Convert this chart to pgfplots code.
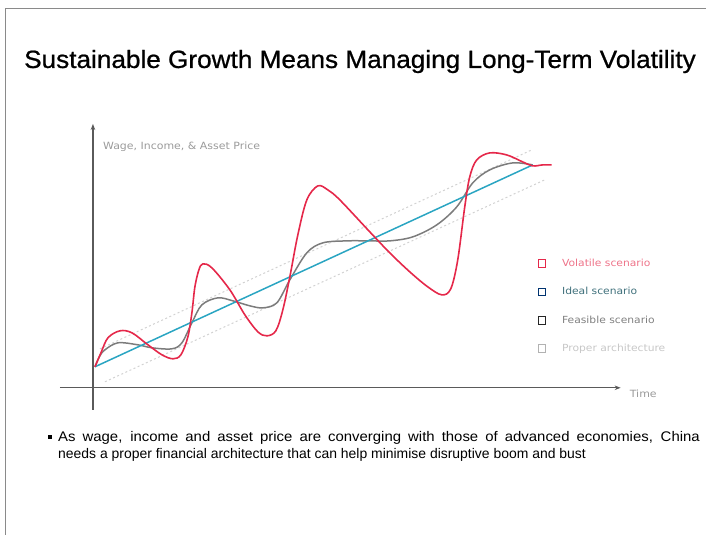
\documentclass[border=0pt]{standalone}
\usepackage{pgfplots}
\pgfplotsset{compat=1.18}
\usetikzlibrary{arrows.meta}
\usepackage{fontspec}
\setmainfont{Liberation Sans}
\newfontfamily\chartfont[FakeStretch=1.1]{DejaVu Sans}
\newfontfamily\titlefont[FakeBold=0.8]{Liberation Sans}

\definecolor{volred}{HTML}{E5284A}
\definecolor{idealblue}{HTML}{2AA5C2}
\definecolor{feasgray}{HTML}{7C7C7C}
\definecolor{propgray}{HTML}{D2D2D2}
\definecolor{axisgray}{HTML}{5A5A5A}
\definecolor{labelgray}{HTML}{9A9A9A}
\definecolor{framegray}{HTML}{8A8A8A}

\begin{document}
\begin{tikzpicture}
\begin{axis}[
    scale only axis,
    width=706bp, height=535bp,
    xmin=0, xmax=706, ymin=0, ymax=535,
    y dir=reverse,
    hide axis,
    clip=false,
    reverse legend,
    legend style={at={(axis cs:535,255)}, anchor=north west,
        draw=none, fill=none, row sep=15.5bp,
        font=\chartfont\fontsize{9.8}{11}\selectfont,
        legend cell align=left},
]
% page extent
\path (axis cs:0,0) rectangle (axis cs:706,535);
% page frame
\addplot[framegray, line width=0.8bp, forget plot] coordinates {(5,535) (5,8) (706,8)};

% axes
\addplot[axisgray, line width=1.2bp, -{Stealth[length=6bp,width=4.5bp]}, forget plot]
    coordinates {(93,410) (93,124)};
\addplot[axisgray, line width=1.2bp, -{Stealth[length=6bp,width=4.5bp]}, forget plot]
    coordinates {(60,388) (621,388)};

% proper architecture band
\addplot[propgray, line width=1bp, dash pattern=on 2bp off 2.5bp,
    legend image code/.code={\draw[solid, black!30, line width=0.9bp, fill=white] (0bp,-3.7bp) rectangle (7.5bp,3.7bp); \path (21bp,0bp);}]
    coordinates {(100,349) (532,150)};
\addlegendentry{\textcolor{black!22}{Proper architecture}}
\addplot[propgray, line width=1bp, dash pattern=on 2bp off 2.5bp, forget plot]
    coordinates {(105,382) (545,180)};

% feasible scenario
\addplot[feasgray, line width=1.5bp, smooth, tension=0.55,
    legend image code/.code={\draw[black!85, line width=0.9bp, fill=white] (0bp,-3.7bp) rectangle (7.5bp,3.7bp); \path (21bp,0bp);}]
    coordinates {
    (95,367) (100,356) (105,350) (118,343) (138,345) (152,348) (172,349)
    (182,343) (192,323) (202,305) (218,298) (233,301) (250,306) (263,308)
    (277,303) (290,280) (307,253) (323,243) (347,241) (370,241) (390,241)
    (413,237) (437,225) (457,207) (473,183) (490,170) (513,163) (533,165)
    };
\addlegendentry{\textcolor{black!50}{Feasible scenario}}

% ideal scenario
\addplot[idealblue, line width=1.5bp,
    legend image code/.code={\draw[black!70!blue!80!cyan, line width=0.9bp, fill=white] (0bp,-3.7bp) rectangle (7.5bp,3.7bp); \path (21bp,0bp);}]
    coordinates {(95,367) (533,165)};
\addlegendentry{\textcolor{black!40!gray!60!idealblue}{Ideal scenario}}

% volatile scenario
\addplot[volred, line width=1.6bp, smooth, tension=0.55,
    legend image code/.code={\draw[volred, line width=0.9bp, fill=white] (0bp,-3.7bp) rectangle (7.5bp,3.7bp); \path (21bp,0bp);}]
    coordinates {
    (95,367) (101,353) (108,338) (120,331) (132,333) (148,345) (162,355)
    (173,359) (181,355) (188,337) (192,313) (195,287) (199,270) (203,264)
    (212,268) (230,290) (245,315) (258,332) (267,336) (276,331) (283,310)
    (290,277) (298,235) (307,200) (318,186) (328,190) (340,200) (370,232)
    (390,253) (410,272) (428,287) (442,295) (451,289) (458,260) (465,207)
    (470,177) (477,160) (490,153) (507,155) (523,162) (533,166) (543,165)
    (552,165)
    };
\addlegendentry{\textcolor{volred!65!white}{Volatile scenario}}

% texts
\node[anchor=base west, inner sep=0pt, text=labelgray, font=\chartfont\fontsize{10}{11}\selectfont]
    at (axis cs:103,150) {Wage, Income, \& Asset Price};
\node[anchor=base west, inner sep=0pt, text=labelgray, font=\chartfont\fontsize{10}{11}\selectfont]
    at (axis cs:630,398) {Time};
\node[anchor=base west, inner sep=0pt, font=\titlefont\fontsize{25}{29}\selectfont]
    at (axis cs:24,68) {\resizebox{672bp}{\height}{Sustainable Growth Means Managing Long-Term Volatility}};
\node[anchor=center, inner sep=0pt] at (axis cs:50,437) {\rule{3.6bp}{3.6bp}};
\node[anchor=base west, inner sep=0pt, font=\fontsize{14}{17}\selectfont]
    at (axis cs:58,441.7) {\resizebox{642bp}{\height}{\makebox[600bp][s]{As wage, income and asset price are converging with those of advanced economies, China}}};
\node[anchor=base west, inner sep=0pt, font=\fontsize{14}{17}\selectfont]
    at (axis cs:58,458.3) {needs a proper financial architecture that can help minimise disruptive boom and bust};
\end{axis}
\end{tikzpicture}
\end{document}
